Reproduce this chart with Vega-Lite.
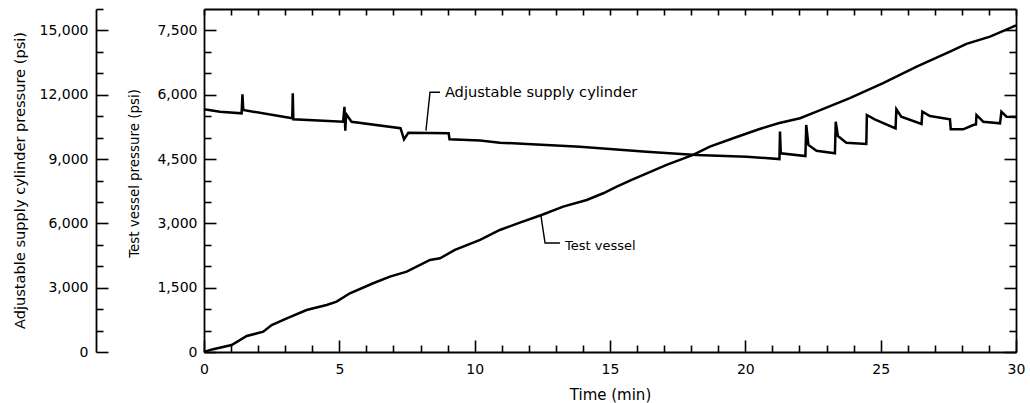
{
  "$schema": "https://vega.github.io/schema/vega-lite/v6.json",
  "width": 812,
  "height": 343,
  "autosize": {"type": "none"},
  "padding": {"left": 204, "top": 9, "right": 14, "bottom": 51},
  "background": "white",
  "config": {
    "view": {"stroke": null},
    "font": "DejaVu Sans",
    "axis": {
      "domainColor": "black", "domainWidth": 1.8,
      "tickColor": "black", "tickWidth": 1.6,
      "labelColor": "black", "titleColor": "black",
      "labelFont": "DejaVu Sans", "titleFont": "DejaVu Sans",
      "labelFontSize": 14, "titleFontWeight": "normal",
      "grid": false, "labelOverlap": false, "labelBound": false, "labelFlush": false
    }
  },
  "datasets": {
    "supply": [
      {"t":0,"p":11320},{"t":0.59,"p":11210},{"t":1.39,"p":11135},{"t":1.42,"p":12020},{"t":1.45,"p":11290},
      {"t":3.26,"p":10900},{"t":3.28,"p":12070},{"t":3.30,"p":10860},
      {"t":5.14,"p":10740},{"t":5.19,"p":11440},{"t":5.22,"p":10320},{"t":5.25,"p":11100},{"t":5.45,"p":10740},
      {"t":7.26,"p":10440},{"t":7.39,"p":9920},{"t":7.55,"p":10230},{"t":9.04,"p":10200},{"t":9.07,"p":9920},
      {"t":10.20,"p":9870},{"t":10.93,"p":9764},{"t":13.89,"p":9577},{"t":16.35,"p":9344},{"t":18.20,"p":9190},
      {"t":20.05,"p":9111},{"t":21.26,"p":9000},{"t":21.28,"p":10280},{"t":21.31,"p":9270},
      {"t":22.22,"p":9140},{"t":22.25,"p":10590},{"t":22.33,"p":9660},{"t":22.63,"p":9390},
      {"t":23.31,"p":9270},{"t":23.34,"p":10740},{"t":23.42,"p":10076},{"t":23.73,"p":9764},
      {"t":24.47,"p":9703},{"t":24.49,"p":11056},{"t":24.78,"p":10856},{"t":25.55,"p":10436},
      {"t":25.58,"p":11322},{"t":25.76,"p":10977},{"t":26.51,"p":10636},
      {"t":26.54,"p":11210},{"t":26.82,"p":11009},{"t":27.56,"p":10856},{"t":27.59,"p":10389},
      {"t":28.05,"p":10389},{"t":28.42,"p":10590},{"t":28.52,"p":10610},{"t":28.54,"p":11056},{"t":28.79,"p":10743},
      {"t":29.41,"p":10669},{"t":29.46,"p":11210},{"t":29.65,"p":10977},{"t":30,"p":10963}
    ],
    "vessel": [
      {"t":0,"p":0},{"t":0.3,"p":60},{"t":1.02,"p":163},{"t":1.58,"p":373},{"t":2.19,"p":474},
      {"t":2.50,"p":630},{"t":3.06,"p":786},{"t":3.79,"p":980},{"t":4.53,"p":1097},{"t":4.90,"p":1174},
      {"t":5.39,"p":1369},{"t":6.25,"p":1603},{"t":6.87,"p":1757},{"t":7.49,"p":1873},{"t":8.35,"p":2146},
      {"t":8.72,"p":2186},{"t":9.27,"p":2380},{"t":10.20,"p":2613},{"t":10.93,"p":2846},{"t":11.67,"p":3017},
      {"t":12.47,"p":3196},{"t":13.27,"p":3390},{"t":14.14,"p":3546},{"t":14.75,"p":3702},{"t":15.25,"p":3856},
      {"t":15.80,"p":4013},{"t":17.09,"p":4363},{"t":18.07,"p":4596},{"t":18.69,"p":4790},{"t":19.55,"p":4986},
      {"t":20.42,"p":5179},{"t":21.22,"p":5336},{"t":22.02,"p":5452},{"t":22.63,"p":5606},{"t":23.86,"p":5919},
      {"t":25.09,"p":6269},{"t":26.33,"p":6656},{"t":27.56,"p":7006},{"t":28.17,"p":7186},{"t":29.04,"p":7356},
      {"t":29.77,"p":7552},{"t":30,"p":7620}
    ],
    "leaders": [
      {"g":"supply","t":8.20,"p":5163},{"g":"supply","t":8.35,"p":6060},{"g":"supply","t":8.72,"p":6060},
      {"g":"vessel","t":12.45,"p":3173},{"g":"vessel","t":12.60,"p":2543},{"g":"vessel","t":13.15,"p":2543}
    ],
    "labels": [
      {"label":"Adjustable supply cylinder","t":8.90,"p":6043},
      {"label":"Test vessel","t":13.34,"p":2473}
    ]
  },
  "layer": [
    {
      "data": {"name": "supply"},
      "mark": {"type": "line", "color": "black", "strokeWidth": 2.5},
      "encoding": {
        "x": {
          "field": "t", "type": "quantitative",
          "scale": {"domain": [0, 30], "nice": false, "zero": false},
          "axis": {
            "orient": "bottom",
            "values": [0,5,10,15,20,25,30],
            "ticks": false, "labelPadding": 10,
            "title": "Time (min)", "titleFontSize": 15,
            "titleX": 406, "titleY": 47, "titleBaseline": "alphabetic", "titleAlign": "center"
          }
        },
        "y": {
          "field": "p", "type": "quantitative",
          "scale": {"domain": [0, 16000], "nice": false},
          "axis": {
            "orient": "left", "offset": 108,
            "values": [0,3000,6000,9000,12000,15000],
            "format": ",.0f",
            "ticks": false, "labelPadding": 8,
            "title": "Adjustable supply cylinder pressure (psi)", "titleFontSize": 14.6,
            "titleX": -76, "titleY": 171, "titleBaseline": "middle", "titleAlign": "center"
          }
        }
      }
    },
    {
      "data": {"name": "vessel"},
      "mark": {"type": "line", "color": "black", "strokeWidth": 2.5},
      "encoding": {
        "x": {
          "field": "t", "type": "quantitative",
          "axis": {
            "orient": "top", "offset": -343,
            "values": [0,1,2,3,4,5,6,7,8,9,10,11,12,13,14,15,16,17,18,19,20,21,22,23,24,25,26,27,28,29,30],
            "tickSize": {"condition": {"test": "datum.value % 5 === 0", "value": 12}, "value": 7},
            "labels": false, "domain": false, "title": null
          }
        },
        "y": {
          "field": "p", "type": "quantitative",
          "scale": {"domain": [0, 8000], "nice": false},
          "axis": {
            "orient": "left",
            "values": [0,1500,3000,4500,6000,7500],
            "format": ",.0f",
            "ticks": false, "labelPadding": 7,
            "title": "Test vessel pressure (psi)", "titleFontSize": 13.4,
            "titleX": -70, "titleY": 164, "titleBaseline": "middle", "titleAlign": "center"
          }
        }
      }
    },
    {
      "data": {"name": "leaders"},
      "mark": {"type": "line", "color": "black", "strokeWidth": 1.4},
      "encoding": {
        "detail": {"field": "g"},
        "x": {
          "field": "t", "type": "quantitative",
          "axis": {
            "orient": "bottom", "offset": -343,
            "values": [0,1,2,3,4,5,6,7,8,9,10,11,12,13,14,15,16,17,18,19,20,21,22,23,24,25,26,27,28,29,30],
            "tickSize": 6, "labels": false, "domain": true, "title": null
          }
        },
        "y": {
          "field": "p", "type": "quantitative",
          "scale": {"domain": [0, 8000], "nice": false},
          "axis": {
            "orient": "right", "offset": -812,
            "values": [0,500,1000,1500,2000,2500,3000,3500,4000,4500,5000,5500,6000,6500,7000,7500],
            "tickSize": {"condition": {"test": "datum.value % 1500 === 0", "value": 12}, "value": 7},
            "labels": false, "domain": false, "title": null
          }
        }
      }
    },
    {
      "data": {"name": "labels"},
      "transform": [{"filter": "datum.label !== 'Test vessel'"}],
      "mark": {"type": "text", "align": "left", "baseline": "middle", "fontSize": 14.6, "font": "DejaVu Sans", "color": "black"},
      "encoding": {
        "text": {"field": "label"},
        "x": {"field": "t", "type": "quantitative", "axis": null},
        "y": {
          "field": "p", "type": "quantitative",
          "scale": {"domain": [0, 8000], "nice": false},
          "axis": {
            "orient": "right", "offset": -920,
            "values": [0,500,1000,1500,2000,2500,3000,3500,4000,4500,5000,5500,6000,6500,7000,7500,8000],
            "tickSize": {"condition": {"test": "datum.value % 1500 === 0", "value": 12}, "value": 7},
            "labels": false, "domain": false, "title": null
          }
        }
      }
    },
    {
      "data": {"name": "labels"},
      "transform": [{"filter": "datum.label === 'Test vessel'"}],
      "mark": {"type": "text", "align": "left", "baseline": "middle", "fontSize": 13, "font": "DejaVu Sans", "color": "black"},
      "encoding": {
        "text": {"field": "label"},
        "x": {"field": "t", "type": "quantitative", "axis": null},
        "y": {
          "field": "p", "type": "quantitative",
          "scale": {"domain": [0, 8000], "nice": false},
          "axis": {
            "orient": "left", "offset": -812,
            "values": [0,500,1000,1500,2000,2500,3000,3500,4000,4500,5000,5500,6000,6500,7000,7500],
            "tickSize": {"condition": {"test": "datum.value % 1500 === 0", "value": 12}, "value": 7},
            "labels": false, "domain": true, "title": null
          }
        }
      }
    }
  ],
  "resolve": {"scale": {"y": "independent"}, "axis": {"x": "independent", "y": "independent"}}
}
